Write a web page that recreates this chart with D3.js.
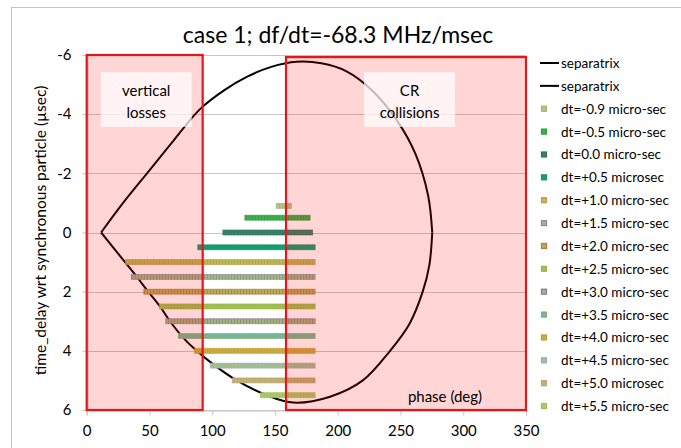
<!DOCTYPE html>
<html><head><meta charset="utf-8">
<script src="https://cdn.jsdelivr.net/npm/d3@7"></script>
<style>body{margin:0;background:#fff} text{font-family:Lato,'Open Sans',sans-serif;fill:#000}</style>
</head><body><svg id="c" width="681" height="448"></svg>
<script>
// ---- data ----
const titleText = "case 1; df/dt=-68.3 MHz/msec";
const yTitle = "time_delay wrt synchronous particle (\u00b5sec)";
const xTitle = "phase (deg)";
const xTicks = [0, 50, 100, 150, 200, 250, 300, 350];
const yTicks = [-6, -4, -2, 0, 2, 4, 6];

const seriesLabels = ["dt=-0.9 micro-sec","dt=-0.5 micro-sec","dt=0.0 micro-sec","dt=+0.5 microsec",
  "dt=+1.0 micro-sec","dt=+1.5 micro-sec","dt=+2.0 micro-sec","dt=+2.5 micro-sec","dt=+3.0 micro-sec",
  "dt=+3.5 micro-sec","dt=+4.0 micro-sec","dt=+4.5 micro-sec","dt=+5.0 microsec","dt=+5.5 micro-sec"];
const seriesDelay = [-0.9, -0.5, 0.0, 0.5, 1.0, 1.5, 2.0, 2.5, 3.0, 3.5, 4.0, 4.5, 5.0, 5.5];
const phaseStart = [153, 128, 110.5, 90.5, 33, 37.5, 47.5, 60, 65, 75, 88, 100.5, 118, 140.5];
const phaseEnd   = [161, 176, 178, 180, 180, 180, 180, 180, 180, 180, 180, 180, 180, 180];
const fillColors   = ["#b2c283","#3fb04a","#2e8a5a","#12a070","#aec055","#9cbc74","#aab452","#9cc252",
  "#a2b86c","#66bca4","#bcb244","#a4c288","#b4ba66","#aacb64"];
const borderColors = ["#a4b474","#2f9e42","#3a6a78","#1e9064","#d09444","#8a86a6","#c07446","#a4b446",
  "#92769a","#8aaa76","#d6962e","#98aeb0","#c89a80","#a2bc5c"];

const sepName = ["separatrix", "separatrix"];
const sepUpperPhase = [11.5, 29, 50, 70, 90.3, 110, 127.5, 147, 167.3, 187, 207, 227, 247, 262, 272, 275.3];
const sepUpperDelay = [0, -1.0, -2.1, -3.15, -4.17, -4.82, -5.26, -5.6, -5.77, -5.72, -5.45, -4.82, -3.8, -2.65, -1.25, 0];
const sepLowerPhase = [275.3, 273, 267.7, 257, 241.7, 220, 193.9, 164.6, 143.4, 119.5, 102.2, 87.6, 75.7, 66.4, 58.4, 49, 40, 30.5, 11.5];
const sepLowerDelay = [0, 1.1, 2.0, 3.1, 4.0, 5.0, 5.55, 5.75, 5.5, 5.0, 4.5, 4.0, 3.5, 3.0, 2.5, 2.0, 1.5, 1.0, 0];

const zonePhaseFrom = [0, 158.8];
const zonePhaseTo   = [92.4, 350];
const zoneDelayTop  = [-6, -5.93];
const zoneDelayBottom = [6, 6];
const zoneLabels = [["vertical", "losses"], ["CR", "collisions"]];
const labelPhaseFrom = [11.2, 221];
const labelPhaseTo   = [83.7, 293.5];
const labelDelayTop  = [-5.42, -5.42];
const labelDelayBottom = [-3.57, -3.57];

// ---- chart ----
const svg = d3.select("#c");
const x = d3.scaleLinear().domain([0, 350]).range([86.7, 526]);
const y = d3.scaleLinear().domain([-6, 6]).range([55, 410]);

// frame
svg.append("rect").attr("x", 11.5).attr("y", 7.5).attr("width", 900).attr("height", 900)
  .attr("fill", "none").attr("stroke", "#c4c4c4");

// gridlines
svg.append("g").selectAll("line").data(yTicks).join("line")
  .attr("x1", x(0)).attr("x2", x(350)).attr("y1", d => Math.round(y(d)) + 0.5).attr("y2", d => Math.round(y(d)) + 0.5)
  .attr("stroke", "#c6c6c6").attr("stroke-width", 1);

// axes
const gx = svg.append("g").attr("transform", `translate(0,${Math.round(y(6)) + 0.5})`)
  .call(d3.axisBottom(x).tickValues(xTicks).tickSize(5).tickPadding(10).tickFormat(d3.format("d")));
const gy = svg.append("g").attr("transform", `translate(${Math.round(x(0)) + 0.5},0)`)
  .call(d3.axisLeft(y).tickValues(yTicks).tickSize(5).tickPadding(11).tickFormat(d => String(d)));
[gx, gy].forEach(g => {
  g.select(".domain").attr("stroke", "#c6c6c6");
  g.selectAll(".tick line").attr("stroke", "#c6c6c6");
  g.selectAll(".tick text").attr("font-size", 15).attr("font-family", "Lato,'Open Sans',sans-serif").attr("fill", "#222");
});

// y title
svg.append("text").attr("transform", `translate(46,${(y(-6) + y(6)) / 2 - 2}) rotate(-90)`)
  .attr("text-anchor", "middle").attr("font-size", 15.5).text(yTitle);

// separatrix
const line = d3.line().x(d => x(d[0])).y(d => y(d[1])).curve(d3.curveCatmullRom.alpha(0.5));
svg.append("path").datum(sepUpperPhase.map((p, i) => [p, sepUpperDelay[i]]))
  .attr("d", line).attr("fill", "none").attr("stroke", "#000").attr("stroke-width", 2);
svg.append("path").datum(sepLowerPhase.map((p, i) => [p, sepLowerDelay[i]]))
  .attr("d", line).attr("fill", "none").attr("stroke", "#000").attr("stroke-width", 2);

// patterns for the marker bars
const defs = svg.append("defs");
seriesDelay.forEach((d, i) => {
  const p = defs.append("pattern").attr("id", "pat" + i).attr("patternUnits", "userSpaceOnUse")
    .attr("width", 3).attr("height", 6);
  p.append("rect").attr("width", 3).attr("height", 6).attr("fill", fillColors[i]);
  p.append("rect").attr("width", 1).attr("height", 6).attr("fill", borderColors[i]).attr("opacity", 0.75);
});

// bars
const bh = 5, pad = 2.5;
svg.append("g").selectAll("rect").data(seriesDelay).join("rect")
  .attr("x", (d, i) => x(phaseStart[i]) - pad)
  .attr("width", (d, i) => x(phaseEnd[i]) - x(phaseStart[i]) + 2 * pad)
  .attr("y", d => y(d) - bh / 2).attr("height", bh)
  .attr("fill", (d, i) => `url(#pat${i})`)
  .attr("stroke", (d, i) => borderColors[i]).attr("stroke-width", 0.8).attr("stroke-opacity", 0.8);

// zones
svg.append("g").selectAll("rect").data(zonePhaseFrom).join("rect")
  .attr("x", (d, i) => x(d)).attr("width", (d, i) => x(zonePhaseTo[i]) - x(d))
  .attr("y", (d, i) => y(zoneDelayTop[i])).attr("height", (d, i) => y(zoneDelayBottom[i]) - y(zoneDelayTop[i]))
  .attr("fill", "#ff0000").attr("fill-opacity", 0.165)
  .attr("stroke", "#e4161c").attr("stroke-width", 2.2);

// zone labels
zoneLabels.forEach((lines, i) => {
  const x0 = x(labelPhaseFrom[i]), x1 = x(labelPhaseTo[i]);
  const y0 = y(labelDelayTop[i]), y1 = y(labelDelayBottom[i]);
  svg.append("rect").attr("x", x0).attr("y", y0).attr("width", x1 - x0).attr("height", y1 - y0)
    .attr("fill", "#fff").attr("fill-opacity", 0.72);
  lines.forEach((t, j) => {
    svg.append("text").attr("x", (x0 + x1) / 2).attr("y", y0 + 24 + j * 21.5)
      .attr("text-anchor", "middle").attr("font-size", 15).text(t);
  });
});

// x title inside plot
svg.append("text").attr("x", 445).attr("y", 402).attr("text-anchor", "middle").attr("font-size", 15).text(xTitle);

// title
svg.append("text").attr("x", 338).attr("y", 43).attr("text-anchor", "middle").attr("font-size", 23).text(titleText);

// legend
const lg = svg.append("g");
const rowY = i => 63 + i * 22.87;
sepName.forEach((n, i) => {
  lg.append("line").attr("x1", 540).attr("x2", 559).attr("y1", rowY(i)).attr("y2", rowY(i))
    .attr("stroke", "#000").attr("stroke-width", 2);
  lg.append("text").attr("x", 561).attr("y", rowY(i) + 5).attr("font-size", 13.5).text(n);
});
seriesLabels.forEach((n, i) => {
  const r = rowY(i + 2);
  lg.append("rect").attr("x", 541.5).attr("y", r - 2.5).attr("width", 5).attr("height", 5)
    .attr("fill", fillColors[i]).attr("stroke", borderColors[i]).attr("stroke-width", 1.2);
  lg.append("text").attr("x", 561).attr("y", r + 5).attr("font-size", 13.5).text(n);
});
</script></body></html>
